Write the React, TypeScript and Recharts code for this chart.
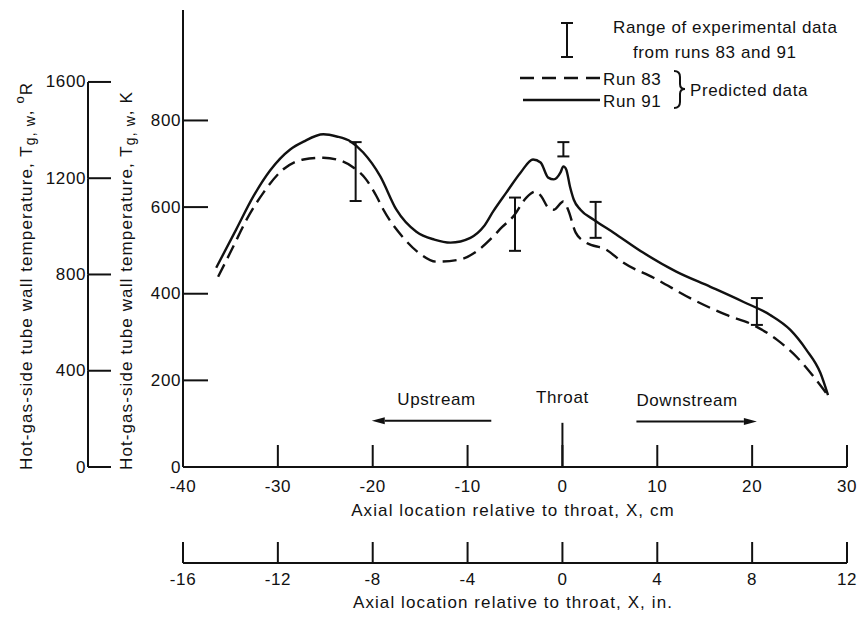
import {
  ComposedChart,
  Line,
  Scatter,
  ErrorBar,
  XAxis,
  YAxis,
  Legend,
  ReferenceLine,
} from 'recharts';

// predicted hot-gas-side wall temperature, x in cm from throat, T in K
const run83X = [-36.3, -34.7, -33.3, -31.5, -29.7, -27.3, -25.2, -23.8, -22.0, -20.7, -19.6, -18.9, -16.8, -15.0, -13.3, -10.8, -9.1, -7.3, -6.4, -5.2, -3.8, -2.8, -2.2, -1.5, -0.9, 0.1, 0.6, 1.4, 2.5, 4.6, 6.4, 9.6, 13.8, 17.3, 20.1, 22.6, 24.7, 26.5, 27.9];
const run83K = [439, 509, 571, 634, 682, 710, 714, 710, 691, 664, 625, 595, 530, 492, 474, 479, 497, 532, 553, 578, 622, 636, 624, 599, 594, 613, 594, 541, 518, 502, 472, 437, 386, 351, 328, 294, 254, 208, 168];

const run91X = [-36.5, -34.4, -32.6, -30.8, -28.7, -27.3, -25.2, -23.8, -22.3, -21.0, -19.2, -17.5, -15.4, -13.5, -11.8, -9.7, -8.3, -7.3, -5.9, -4.4, -3.1, -2.3, -1.5, -0.9, -0.2, 0.1, 0.4, 0.8, 1.2, 1.9, 3.3, 5.4, 8.5, 12.0, 15.6, 19.1, 21.9, 24.0, 25.7, 27.2, 28.0];
const run91K = [460, 548, 624, 685, 733, 751, 768, 763, 751, 726, 671, 594, 543, 525, 518, 529, 555, 590, 634, 680, 710, 703, 668, 664, 680, 694, 687, 647, 617, 594, 571, 541, 495, 451, 416, 381, 351, 317, 271, 217, 166];

// range of experimental data from runs 83 and 91
const rangeX = [-21.8, -5.0, 0.1, 3.5, 20.5];
const rangeLow = [614, 499, 717, 529, 328];
const rangeHigh = [750, 622, 750, 612, 390];

const kTicks = [0, 200, 400, 600, 800];
const rTicks = [0, 400, 800, 1200, 1600];
const cmTicks = [-40, -30, -20, -10, 0, 10, 20, 30];
const inTicks = [-16, -12, -8, -4, 0, 4, 8, 12];

const W = 863;
const H = 617;
const PLOT_H = 457;
const K_MAX = 1055;
const R_MAX = K_MAX * 1.8;
const FONT = '"Liberation Sans", Arial, sans-serif';
const INK = '#111';

const run83 = run83X.map((x, i) => ({ x, k: run83K[i] }));
const run91 = run91X.map((x, i) => ({ x, k: run91K[i] }));
const ranges = rangeX.map((x, i) => ({
  x,
  k: rangeLow[i],
  err: [0, rangeHigh[i] - rangeLow[i]],
}));
// the inch scale needs something to hang on, so give it its tick positions
const inchMarks = inTicks.map((inch) => ({ inch, k: 0 }));

const txt = { fontFamily: FONT, fontSize: 17, letterSpacing: 0.6, fill: INK };
const titleTxt = { ...txt, letterSpacing: 1.1 };

function KTick({ x, y, payload }: any) {
  return (
    <g>
      <line x1={x} x2={x + 25} y1={y} y2={y} stroke={INK} strokeWidth={2} />
      <text x={x - 2} y={y} textAnchor="end" dominantBaseline="central" {...txt}>
        {payload.value}
      </text>
    </g>
  );
}

// outer Rankine scale: axis line only runs up to its last tick
function RTick({ x, y, payload }: any) {
  const step = (PLOT_H * 400) / R_MAX;
  return (
    <g>
      <line x1={x} x2={x + 23} y1={y} y2={y} stroke={INK} strokeWidth={2} />
      {payload.value > 0 && (
        <line x1={x} x2={x} y1={y} y2={y + step} stroke={INK} strokeWidth={2} />
      )}
      <text x={x - 2} y={y} textAnchor="end" dominantBaseline="central" {...txt}>
        {payload.value}
      </text>
    </g>
  );
}

function CmTick({ x, y, payload }: any) {
  return (
    <g>
      {payload.value !== -40 && (
        <line x1={x} x2={x} y1={y} y2={y - 22} stroke={INK} strokeWidth={2} />
      )}
      <text x={x} y={y + 19} textAnchor="middle" dominantBaseline="central" {...txt}>
        {payload.value}
      </text>
    </g>
  );
}

function InTick({ x, y, payload }: any) {
  return (
    <g>
      <line x1={x} x2={x} y1={y} y2={y - 21} stroke={INK} strokeWidth={2} />
      <text x={x} y={y + 16} textAnchor="middle" dominantBaseline="central" {...txt}>
        {payload.value}
      </text>
    </g>
  );
}

const yTitle = (unit: string, dx: number) => (props: any) => {
  const { viewBox } = props;
  const cx = viewBox.x + dx;
  const y0 = viewBox.y + viewBox.height + 3;
  return (
    <text
      transform={`rotate(-90 ${cx} ${y0})`}
      x={cx}
      y={y0}
      dominantBaseline="central"
      {...titleTxt}
    >
      Hot-gas-side tube wall temperature, T
      <tspan fontSize={14} dy={4}>g, w</tspan>
      <tspan dy={-4}>, </tspan>
      {unit === 'R' ? (
        <>
          <tspan fontSize={13} dy={-7}>o</tspan>
          <tspan dy={7}>R</tspan>
        </>
      ) : (
        'K'
      )}
    </text>
  );
};

const xTitle = (text: string, dy: number) => (props: any) => {
  const { viewBox } = props;
  return (
    <text
      x={viewBox.x + viewBox.width / 2 - 2}
      y={viewBox.y + dy}
      textAnchor="middle"
      dominantBaseline="central"
      {...titleTxt}
    >
      {text}
    </text>
  );
};

// flow direction arrows with their captions
const arrow = (caption: string, anchor: 'middle' | 'start', shift: number) => (p: any) => {
  const { x1, y1, x2, y2 } = p;
  const dir = Math.sign(x2 - x1);
  const head = 13;
  const tx = anchor === 'start' ? x1 + shift : (x1 + x2) / 2 + shift;
  return (
    <g>
      <line x1={x1} y1={y1} x2={x2 - dir * head} y2={y2} stroke={INK} strokeWidth={2} />
      <polygon
        points={`${x2},${y2} ${x2 - dir * head},${y2 - 3.5} ${x2 - dir * head},${y2 + 3.5}`}
        fill={INK}
      />
      <text x={tx} y={y1 - 21} textAnchor={anchor} dominantBaseline="central" {...txt}>
        {caption}
      </text>
    </g>
  );
};

const throatMark = (p: any) => {
  const { x1, y1, x2, y2 } = p;
  const top = Math.min(y1, y2);
  return (
    <g>
      <line x1={x1} y1={y1} x2={x2} y2={y2} stroke={INK} strokeWidth={2} />
      <text x={x1} y={top - 25} textAnchor="middle" dominantBaseline="central" {...txt}>
        Throat
      </text>
    </g>
  );
};

function LegendBox() {
  return (
    <svg width={350} height={120} style={{ display: 'block' }}>
      <line x1={57} x2={57} y1={23} y2={57} stroke={INK} strokeWidth={2} />
      <line x1={51} x2={63} y1={23} y2={23} stroke={INK} strokeWidth={2} />
      <line x1={51} x2={63} y1={57} y2={57} stroke={INK} strokeWidth={2} />
      <text x={103} y={27} dominantBaseline="central" {...txt}>
        Range of experimental data
      </text>
      <text x={123} y={52} dominantBaseline="central" {...txt}>
        from runs 83 and 91
      </text>
      <line x1={10} x2={90} y1={78} y2={78} stroke={INK} strokeWidth={2.4} strokeDasharray="14 8" />
      <text x={93} y={79} dominantBaseline="central" {...txt}>
        Run 83
      </text>
      <line x1={13} x2={90} y1={100} y2={100} stroke={INK} strokeWidth={2.4} />
      <text x={93} y={101} dominantBaseline="central" {...txt}>
        Run 91
      </text>
      <path
        d="M 164 71 Q 170 71 170 77 L 170 84 Q 170 89 175 89 Q 170 89 170 94 L 170 102 Q 170 108 164 108"
        fill="none"
        stroke={INK}
        strokeWidth={2}
      />
      <text x={180} y={90} dominantBaseline="central" {...txt}>
        Predicted data
      </text>
    </svg>
  );
}

export default function App() {
  return (
    <div style={{ position: 'absolute', left: 0, top: 0, width: W, height: H, background: '#fff' }}>
      <ComposedChart width={W} height={H} margin={{ top: 10, right: 16, bottom: 0, left: 0 }}>
        <XAxis
          xAxisId="cm"
          dataKey="x"
          type="number"
          domain={[-40, 30]}
          ticks={cmTicks}
          allowDataOverflow
          height={96}
          tickSize={0}
          tickMargin={0}
          tickLine={false}
          axisLine={{ stroke: INK, strokeWidth: 2 }}
          tick={<CmTick />}
          label={xTitle('Axial location relative to throat, X, cm', 43)}
        />
        <XAxis
          xAxisId="in"
          dataKey="inch"
          type="number"
          domain={[-16, 12]}
          ticks={inTicks}
          allowDataOverflow
          interval={0}
          height={54}
          tickSize={0}
          tickMargin={0}
          tickLine={false}
          axisLine={{ stroke: INK, strokeWidth: 2 }}
          tick={<InTick />}
          label={xTitle('Axial location relative to throat, X, in.', 39)}
        />
        <YAxis
          yAxisId="K"
          type="number"
          domain={[0, K_MAX]}
          ticks={kTicks}
          allowDataOverflow
          width={95}
          tickSize={0}
          tickMargin={0}
          tickLine={false}
          axisLine={{ stroke: INK, strokeWidth: 2 }}
          tick={<KTick />}
          label={yTitle('K', 38)}
        />
        <YAxis
          yAxisId="R"
          type="number"
          domain={[0, R_MAX]}
          ticks={rTicks}
          allowDataOverflow
          width={88}
          tickSize={0}
          tickMargin={0}
          tickLine={false}
          axisLine={false}
          tick={<RTick />}
          label={yTitle('R', 26)}
        />

        <ReferenceLine
          xAxisId="cm"
          yAxisId="K"
          segment={[{ x: 0, y: 0 }, { x: 0, y: 102 }]}
          shape={throatMark}
          ifOverflow="visible"
        />
        <ReferenceLine
          xAxisId="cm"
          yAxisId="K"
          segment={[{ x: -7.5, y: 107 }, { x: -20.1, y: 107 }]}
          shape={arrow('Upstream', 'middle', 5)}
          ifOverflow="visible"
        />
        <ReferenceLine
          xAxisId="cm"
          yAxisId="K"
          segment={[{ x: 7.8, y: 105 }, { x: 20.5, y: 105 }]}
          shape={arrow('Downstream', 'start', 0)}
          ifOverflow="visible"
        />

        <Scatter
          xAxisId="in"
          yAxisId="K"
          data={inchMarks}
          dataKey="k"
          shape={() => <g />}
          isAnimationActive={false}
        />

        <Line
          xAxisId="cm"
          yAxisId="K"
          data={run83}
          dataKey="k"
          type="monotone"
          stroke={INK}
          strokeWidth={2.4}
          strokeDasharray="14 7"
          dot={false}
          activeDot={false}
          isAnimationActive={false}
        />
        <Line
          xAxisId="cm"
          yAxisId="K"
          data={run91}
          dataKey="k"
          type="monotone"
          stroke={INK}
          strokeWidth={2.4}
          dot={false}
          activeDot={false}
          isAnimationActive={false}
        />
        <Scatter
          xAxisId="cm"
          yAxisId="K"
          data={ranges}
          dataKey="k"
          shape={() => <g />}
          isAnimationActive={false}
        >
          <ErrorBar
            dataKey="err"
            direction="y"
            width={6}
            stroke={INK}
            strokeWidth={2}
            isAnimationActive={false}
          />
        </Scatter>

        <Legend
          layout="horizontal"
          verticalAlign="middle"
          align="center"
          wrapperStyle={{ left: 510, top: 0, width: 350, height: 120 }}
          content={() => <LegendBox />}
        />
      </ComposedChart>
    </div>
  );
}
